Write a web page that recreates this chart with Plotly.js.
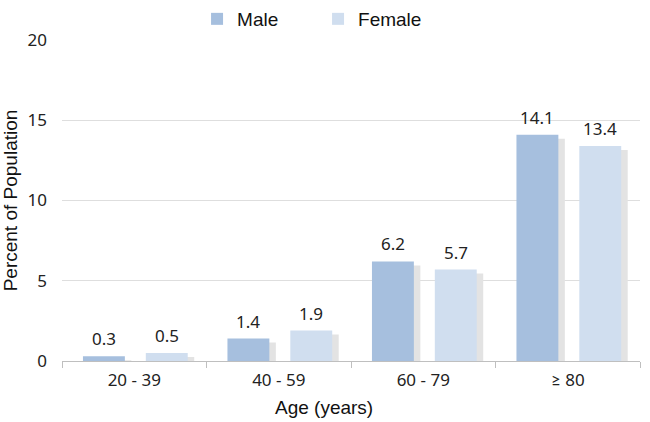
<!DOCTYPE html>
<html>
<head>
<meta charset="utf-8">
<script src="https://cdn.plot.ly/plotly-3.0.1.min.js"></script>
<style>
  html, body { margin: 0; padding: 0; background: #fff; }
  #plotArea { width: 650px; height: 422px; }
</style>
</head>
<body>
<div id="plotArea"></div>
<script>
// age groups and % of population per group
var ageGroups = ["20 - 39", "40 - 59", "60 - 79", "≥ 80"];
var maleValues = [0.3, 1.4, 6.2, 14.1];
var femaleValues = [0.5, 1.9, 5.7, 13.4];

var maleColor = "#a6bfde";
var femaleColor = "#d0deef";
var shadowColor = "#e3e3e3";

// bar geometry, in category units
var barWidth = 0.29;
var maleOffset = -0.355;
var femaleOffset = 0.08;
var shadowShift = 0.045;

var labelFont = { family: "Noto Sans, Lato, sans-serif", size: 17, color: "#222" };
var titleFont = { family: "Liberation Sans, Arial, sans-serif", size: 19, color: "#111" };

// soft drop shadow behind each bar (sits a bit lower than the bar top)
function shadowOf(vals) {
  return vals.map(function (v) { return Math.max(v - 0.25, 0); });
}

var maleShadow = {
  x: ageGroups, y: shadowOf(maleValues), type: "bar",
  offset: maleOffset + shadowShift, width: barWidth,
  marker: { color: shadowColor }, showlegend: false, hoverinfo: "skip"
};
var femaleShadow = {
  x: ageGroups, y: shadowOf(femaleValues), type: "bar",
  offset: femaleOffset + shadowShift, width: barWidth,
  marker: { color: shadowColor }, showlegend: false, hoverinfo: "skip"
};

var male = {
  name: "Male", x: ageGroups, y: maleValues, type: "bar",
  offset: maleOffset, width: barWidth,
  marker: { color: maleColor }
};
var female = {
  name: "Female", x: ageGroups, y: femaleValues, type: "bar",
  offset: femaleOffset, width: barWidth,
  marker: { color: femaleColor }
};

var data = [maleShadow, femaleShadow, male, female];

// value labels above each bar
var annotations = [];
ageGroups.forEach(function (g, i) {
  annotations.push({
    x: i + maleOffset + barWidth / 2, y: maleValues[i], xref: "x", yref: "y",
    text: maleValues[i].toFixed(1), showarrow: false,
    yanchor: "bottom", yshift: 4, font: labelFont
  });
  annotations.push({
    x: i + femaleOffset + barWidth / 2, y: femaleValues[i], xref: "x", yref: "y",
    text: femaleValues[i].toFixed(1), showarrow: false,
    yanchor: "bottom", yshift: 4, font: labelFont
  });
});
// x axis title sits a little left of centre in the original
annotations.push({
  x: 0.454, y: -0.146, xref: "paper", yref: "paper",
  text: "Age (years)", showarrow: false, xanchor: "center", yanchor: "middle",
  font: titleFont
});

var layout = {
  width: 650, height: 422,
  margin: { l: 62, r: 10, t: 40, b: 61 },
  paper_bgcolor: "#fff", plot_bgcolor: "#fff",
  barmode: "overlay",
  showlegend: true,
  legend: {
    orientation: "h", x: 0.443, xanchor: "center",
    y: 1, yref: "container", yanchor: "top",
    entrywidth: 76, itemwidth: 30,
    font: { family: "Liberation Sans, Arial, sans-serif", size: 19, color: "#111" }
  },
  annotations: annotations,
  xaxis: {
    type: "category", range: [-0.5, 3.5],
    tickson: "boundaries", ticks: "outside", ticklen: 6, tickcolor: "#bfbfbf",
    showline: true, linecolor: "#bfbfbf", linewidth: 1,
    showgrid: false, zeroline: false,
    ticklabelstandoff: 4,
    tickfont: labelFont
  },
  yaxis: {
    range: [0, 20], tickvals: [0, 5, 10, 15, 20],
    showgrid: true, gridcolor: "#dedede", gridwidth: 1,
    zeroline: false, showline: false, ticks: "",
    ticklabelstandoff: 14,
    tickfont: labelFont,
    title: { text: "Percent of Population", standoff: 6, font: titleFont }
  }
};

Plotly.newPlot("plotArea", data, layout, { displayModeBar: false, staticPlot: true });
</script>
</body>
</html>
